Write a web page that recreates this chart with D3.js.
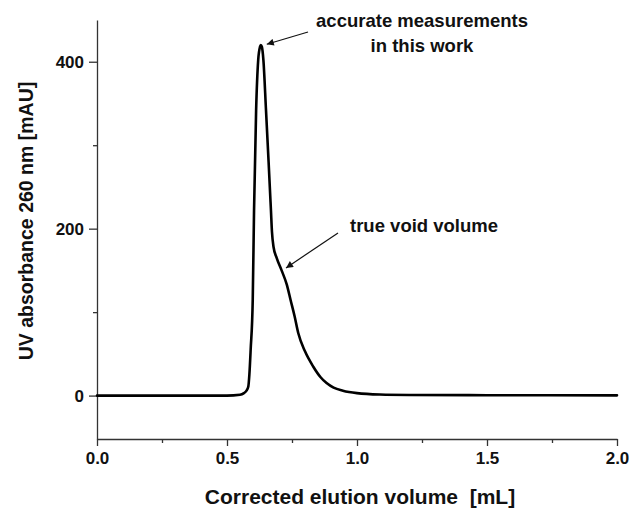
<!DOCTYPE html>
<html>
<head>
<meta charset="utf-8">
<script src="https://cdn.jsdelivr.net/npm/d3@7"></script>
<style>
  html, body { margin: 0; padding: 0; background: #fff; }
  svg { display: block; font-family: "Liberation Sans", Arial, Helvetica, sans-serif; }
</style>
</head>
<body>
<svg id="chart" width="631" height="509"></svg>
<script>
// ---- data ----
const volume = [0.00, 0.30, 0.50, 0.55, 0.565, 0.575, 0.582, 0.586, 0.591, 0.599, 0.604, 0.612, 0.620, 0.627, 0.630, 0.634, 0.640, 0.650, 0.660, 0.669, 0.673, 0.679, 0.691, 0.710, 0.730, 0.745, 0.760, 0.774, 0.800, 0.832, 0.860, 0.883, 0.910, 0.946, 1.000, 1.088, 1.200, 1.500, 2.000];
const absorbance = [0, 0, 0, 1, 3, 6, 11, 25, 55, 115, 222, 342, 402, 418, 420, 418, 402, 342, 280, 222, 196, 178, 165, 150, 133, 114, 95, 75, 53, 34.6, 22, 15, 9.5, 5.9, 3, 1.3, 0.8, 0.5, 0.3];
const xMajorTicks = [0.0, 0.5, 1.0, 1.5, 2.0];
const xMinorTicks = [0.25, 0.75, 1.25, 1.75];
const yMajorTicks = [0, 200, 400];
const yMinorTicks = [100, 300];
const xTitle = "Corrected elution volume\u00a0\u00a0[mL]";
const yTitle = "UV absorbance 260 nm [mAU]";
const annotPeak = ["accurate measurements", "in this work"];
const annotShoulder = "true void volume";
const peakPoint = [0.653, 421];
const shoulderPoint = [0.727, 153];

// ---- layout ----
const svg = d3.select("#chart");
const x = d3.scaleLinear().domain([0, 2]).range([97, 617]);
const y = d3.scaleLinear().domain([-52, 450]).range([439, 20]);
const axisColor = "#333";

// axes
const xAxisG = svg.append("g").attr("transform", `translate(0,${y(-52)})`);
xAxisG.call(d3.axisBottom(x).tickValues(xMajorTicks).tickFormat(d3.format(".1f")).tickSizeInner(7).tickSizeOuter(0).tickPadding(6));
const xMinorG = svg.append("g").attr("transform", `translate(0,${y(-52)})`);
xMinorG.call(d3.axisBottom(x).tickValues(xMinorTicks).tickFormat("").tickSizeInner(4).tickSizeOuter(0));
xMinorG.select(".domain").remove();

const yAxisG = svg.append("g").attr("transform", `translate(${x(0)},0)`);
yAxisG.call(d3.axisLeft(y).tickValues(yMajorTicks).tickFormat(d3.format("d")).tickSizeInner(8).tickSizeOuter(0).tickPadding(5));
const yMinorG = svg.append("g").attr("transform", `translate(${x(0)},0)`);
yMinorG.call(d3.axisLeft(y).tickValues(yMinorTicks).tickFormat("").tickSizeInner(4).tickSizeOuter(0));
yMinorG.select(".domain").remove();

svg.selectAll(".domain, .tick line").attr("stroke", axisColor).attr("stroke-width", 1.3);
svg.selectAll(".tick text").attr("fill", "#111").attr("font-size", 17).attr("font-weight", "bold")
   .attr("font-family", "Liberation Sans, Arial, sans-serif");

// curve
const pts = volume.map((v, i) => [v, absorbance[i]]);
const line = d3.line().x(d => x(d[0])).y(d => y(d[1])).curve(d3.curveMonotoneX);
svg.append("path").datum(pts).attr("d", line)
  .attr("fill", "none").attr("stroke", "#000").attr("stroke-width", 2.6)
  .attr("stroke-linejoin", "round").attr("stroke-linecap", "round");

// axis titles
svg.append("text").attr("x", 360).attr("y", 504).attr("text-anchor", "middle")
  .attr("font-size", 21).attr("font-weight", "bold").attr("fill", "#111").text(xTitle);
svg.append("text").attr("transform", "translate(33,221) rotate(-90)").attr("text-anchor", "middle")
  .attr("font-size", 19.5).attr("font-weight", "bold").attr("fill", "#111").text(yTitle);

// annotations
svg.append("defs").append("marker").attr("id", "arrow").attr("viewBox", "0 0 10 10")
  .attr("refX", 10).attr("refY", 5).attr("markerWidth", 9).attr("markerHeight", 7)
  .attr("markerUnits", "userSpaceOnUse").attr("orient", "auto")
  .append("path").attr("d", "M0,0 L10,5 L0,10 z").attr("fill", "#111");

svg.append("line").attr("x1", 308).attr("y1", 32).attr("x2", x(peakPoint[0])).attr("y2", y(peakPoint[1]))
  .attr("stroke", "#111").attr("stroke-width", 1.2).attr("marker-end", "url(#arrow)");
svg.append("line").attr("x1", 338).attr("y1", 233).attr("x2", x(shoulderPoint[0])).attr("y2", y(shoulderPoint[1]))
  .attr("stroke", "#111").attr("stroke-width", 1.2).attr("marker-end", "url(#arrow)");

const t1 = svg.append("text").attr("text-anchor", "middle")
  .attr("font-size", 18.5).attr("font-weight", "bold").attr("fill", "#111");
t1.append("tspan").attr("x", 422).attr("y", 27).text(annotPeak[0]);
t1.append("tspan").attr("x", 422).attr("y", 52).text(annotPeak[1]);
svg.append("text").attr("x", 350).attr("y", 232).attr("font-size", 18.5).attr("font-weight", "bold")
  .attr("fill", "#111").text(annotShoulder);
</script>
</body>
</html>
